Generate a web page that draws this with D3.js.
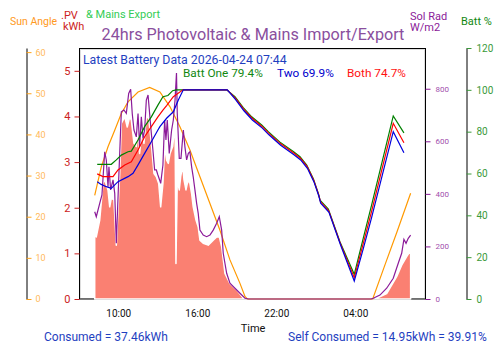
<!DOCTYPE html>
<html><head><meta charset="utf-8">
<script src="https://cdn.jsdelivr.net/npm/d3@7"></script>
<style>body{margin:0;background:#fff}svg{display:block;font-family:Roboto,sans-serif}</style>
</head><body><svg id="c" width="500" height="353"></svg>
<script>
// ---- data (hours from 2026-04-23 00:00; >24 = next day) ----
const pvHours = [8.21,8.33,8.59,8.84,8.97,9.22,9.35,9.47,9.67,9.85,10.11,10.23,10.49,10.68,10.87,10.99,11.19,11.37,11.50,11.62,11.80,11.95,12.13,12.31,12.51,12.71,12.89,13.07,13.22,13.39,13.52,13.67,13.80,13.93,14.13,14.31,14.38,14.48,14.63,14.74,14.89,14.99,15.14,15.24,15.39,15.57,15.69,15.90,16.07,16.20,16.45,16.83,17.21,17.47,17.67,17.85,18.10,18.48,18.99,19.49,19.70,29.49,30.38,31.14,31.52,31.90,32.15,32.20];
const pvKwh = [1.55,1.36,1.73,2.54,2.61,2.39,2.02,2.21,2.17,1.18,2.75,3.85,3.99,3.77,3.99,3.92,3.41,3.34,3.77,3.19,3.70,3.41,3.99,3.96,3.41,2.75,2.68,2.53,2.02,2.53,3.34,3.04,2.97,3.19,3.34,3.85,0.78,2.61,2.39,2.68,2.93,2.61,2.39,2.53,2.61,2.31,2.02,1.73,1.58,1.29,1.22,1.18,1.29,1.36,1.36,1.15,0.56,0.34,0.20,0.02,0,0,0.12,0.49,0.74,0.93,1.04,1.06];

const radHours = [8.21,8.33,8.59,8.76,8.97,9.09,9.22,9.29,9.42,9.60,9.73,9.85,10.03,10.23,10.43,10.61,10.79,10.94,11.06,11.19,11.37,11.50,11.62,11.75,11.88,12.00,12.13,12.26,12.38,12.51,12.63,12.76,12.89,13.01,13.14,13.22,13.39,13.52,13.62,13.72,13.87,14.05,14.18,14.31,14.42,14.48,14.63,14.76,14.94,15.06,15.19,15.32,15.44,15.57,15.69,15.82,15.95,16.07,16.20,16.45,16.71,16.96,17.21,17.47,17.67,17.85,17.97,18.23,18.48,18.86,19.24,19.62,19.90,29.20,29.36,29.87,30.38,30.88,31.26,31.39,31.52,31.69,31.85,32.02,32.20];
const radWm2 = [332,313,364,396,560,529,427,503,415,453,402,212,453,712,719,706,782,798,706,643,617,706,579,693,611,643,757,776,706,630,567,491,491,472,453,440,510,681,605,681,554,643,681,757,860,706,535,535,643,579,529,554,560,503,465,415,364,326,262,243,237,243,262,288,313,262,174,98,60,41,22,3,0,0,3,15,41,79,136,155,174,227,212,231,243];

const sunHours = [8.21,8.71,9.22,9.73,10.23,10.74,11.50,12.38,13.16,13.93,14.69,15.44,16.20,16.96,17.72,18.48,19.24,19.62,19.80,29.32,30.25,31.16,32.20];
const sunDeg = [25.2,32.1,37.0,41.0,45.1,47.9,50.3,51.4,50.3,46.7,41.8,36.2,29.7,23.2,16.7,9.5,3.8,0.6,0,0,8.3,16.3,25.7];

const battOneHours = [8.40,9.47,9.85,10.23,10.74,10.99,11.50,12.00,12.51,13.01,13.39,13.77,14.13,14.38,18.23,18.86,19.49,20.13,20.89,21.39,22.28,23.29,23.80,24.31,24.81,25.19,25.32,25.95,26.83,27.92,28.60,29.24,30.88,31.69];
const battOnePct = [64.4,64.4,66.5,68.8,70.4,70.7,76.0,82.4,87.1,92.7,96.7,97.3,99.6,100,100,96.7,91.5,87.1,83.2,80.0,75.0,70.5,68.0,64.0,57.5,50.5,47.3,43.0,27.4,11.8,29.0,45.0,87.5,79.4];
const bothHours = [8.40,8.84,9.60,9.98,10.49,10.99,11.50,12.00,12.51,13.01,13.39,13.67,14.18,14.91,18.26,18.89,19.52,20.16,20.92,21.42,22.31,23.32,23.83,24.34,24.84,25.22,25.35,25.98,26.86,27.92,28.60,29.24,30.88,31.69];
const bothPct = [59.8,58.5,58.5,61.7,64.1,65.6,71.2,77.6,82.4,87.1,90.3,92.5,96.7,100,100,96.0,90.8,86.4,82.5,79.3,74.3,69.8,67.3,63.3,56.8,49.8,46.6,42.2,26.6,10.2,26.5,42.0,84.0,74.7];
const battTwoHours = [8.40,8.70,9.09,9.47,9.98,10.74,11.12,11.50,12.00,12.51,13.01,13.16,13.67,14.18,14.56,14.94,18.28,18.91,19.54,20.18,20.94,21.44,22.33,23.34,23.85,24.36,24.86,25.24,25.37,26.00,26.88,27.92,28.60,29.24,30.88,31.69];
const battTwoPct = [56.1,54.8,53.7,52.9,56.1,58.5,60.1,64.1,69.6,75.2,80.8,82.4,86.4,89.5,95.1,100,100,95.3,90.0,85.6,81.7,78.5,73.5,69.0,66.5,62.5,56.0,49.0,45.8,41.4,25.8,8.6,24.0,39.0,80.0,69.9];

const xTickHours = [10,16,22,28];
const sunTicks = [0,10,20,30,40,50,60];
const kwhTicks = [0,1,2,3,4,5];
const radTicks = [0,200,400,600,800];
const battTicks = [0,20,40,60,80,100,120];

const latestText = "Latest Battery Data 2026-04-24 07:44";
const battOneText = "Batt One 79.4%", battTwoText = "Two 69.9%", bothText = "Both 74.7%";
const consumedText = "Consumed = 37.46kWh";
const selfText = "Self Consumed = 14.95kWh  = 39.91%";

// ---- drawing ----
const base = new Date(2026,3,23,0,0,0).getTime();
const T = h => new Date(base + h*3600000);
const svg = d3.select("#c");
const L = 79.5, R = 425.5, TOP = 48, BOT = 299;

const x = d3.scaleTime().domain([T(7.017), T(33.367)]).range([79, 426]);
const yKwh = d3.scaleLinear().domain([0,5.5]).range([BOT,TOP]);
const ySun = d3.scaleLinear().domain([0,61]).range([BOT,TOP]);
const yRad = d3.scaleLinear().domain([0,955]).range([BOT,TOP]);
const yBatt = d3.scaleLinear().domain([0,120]).range([BOT,TOP]);

const zip = (a,b) => a.map((h,i)=>[T(h), b[i]]);

// frame
svg.append("rect").attr("x",L+1).attr("y",TOP+1.5).attr("width",R-L-2).attr("height",BOT-TOP-2)
  .attr("fill","none").attr("stroke","#ddd");
svg.append("rect").attr("x",L).attr("y",TOP+0.5).attr("width",R-L).attr("height",BOT-TOP-0.5)
  .attr("fill","none").attr("stroke","#000");

// PV area
svg.append("path").datum(zip(pvHours,pvKwh))
  .attr("d", d3.area().x(d=>x(d[0])).y0(yKwh(0)).y1(d=>yKwh(d[1])))
  .attr("fill","#FA8072").attr("stroke","#fff").attr("stroke-width",1.5).attr("stroke-linejoin","round");

const line = ys => d3.line().x(d=>x(d[0])).y(d=>ys(d[1]));
svg.append("path").datum(zip(sunHours,sunDeg)).attr("d",line(ySun)).attr("fill","none").attr("stroke","#FF9900").attr("stroke-width",1.2);
svg.append("path").datum(zip(radHours,radWm2)).attr("d",line(yRad)).attr("fill","none").attr("stroke","#8B1A99").attr("stroke-width",1.2);
svg.append("path").datum(zip(battOneHours,battOnePct)).attr("d",line(yBatt)).attr("fill","none").attr("stroke","#008000").attr("stroke-width",1.2);
svg.append("path").datum(zip(bothHours,bothPct)).attr("d",line(yBatt)).attr("fill","none").attr("stroke","#FF0000").attr("stroke-width",1.2);
svg.append("path").datum(zip(battTwoHours,battTwoPct)).attr("d",line(yBatt)).attr("fill","none").attr("stroke","#0000DD").attr("stroke-width",1.2);

// axes
function styleAxis(g, col, fs, domainCol){
  g.selectAll(".tick line").attr("stroke",col);
  g.selectAll(".tick text").attr("fill",col).style("font-size",fs+"px").style("font-family","Roboto,sans-serif");
  if(domainCol) g.select(".domain").attr("stroke",domainCol); else g.select(".domain").remove();
}
const gSun = svg.append("g").attr("transform","translate(26.5,0)")
  .call(d3.axisRight(ySun).tickValues(sunTicks).tickSize(5).tickSizeOuter(0).tickPadding(4));
styleAxis(gSun,"#FFA31A",9,"#000");
gSun.selectAll(".tick text").attr("opacity",0.75);

const gKwh = svg.append("g").attr("transform",`translate(${L},0)`)
  .call(d3.axisLeft(yKwh).tickValues(kwhTicks).tickFormat(d3.format("d")).tickSize(5).tickSizeOuter(0).tickPadding(4));
styleAxis(gKwh,"#CC2222",11,null);

const gRad = svg.append("g").attr("transform",`translate(${R},0)`)
  .call(d3.axisRight(yRad).tickValues(radTicks).tickSize(5).tickSizeOuter(0).tickPadding(5));
styleAxis(gRad,"#8B1A99",8,null);
gRad.selectAll(".tick text").attr("opacity",0.8);

const gBatt = svg.append("g").attr("transform","translate(466.5,0)")
  .call(d3.axisRight(yBatt).tickValues(battTicks).tickSize(5).tickSizeOuter(0).tickPadding(5));
styleAxis(gBatt,"#3A9A3A",10,"#000");

const gX = svg.append("g").attr("transform",`translate(0,${BOT})`)
  .call(d3.axisBottom(x).tickValues(xTickHours.map(T)).tickFormat(d3.timeFormat("%H:%M")).tickSize(0).tickPadding(10.5));
styleAxis(gX,"#111",10,null);

// texts
const txt = (s,xx,yy,col,fs,anchor) => svg.append("text").attr("x",xx).attr("y",yy).attr("fill",col)
  .style("font-size",fs+"px").attr("text-anchor",anchor||"start").text(s);
txt("Sun Angle",10,25,"#FF9922",10.5);
txt(".PV",61,18.5,"#CC2222",11);
txt("kWh",63,30,"#CC2222",11);
txt("& Mains Export",86,17.5,"#33CC55",11);
txt("24hrs Photovoltaic & Mains Import/Export",253,39.5,"#8A4F9E",16.2,"middle");
txt("Sol Rad",410,19.5,"#8B1A99",11);
txt("W/m2",410,31,"#8B1A99",11);
txt("Batt %",461,25,"#118811",11);
txt(latestText,83,63.5,"#1F3FBF",12.3);
txt(battOneText,183,76.5,"#118811",11.8);
txt(battTwoText,277,76.5,"#0000CC",11.8);
txt(bothText,347,76.5,"#FF1111",11.8);
txt("Time",253,332,"#111",11,"middle");
txt(consumedText,44,341,"#1F3FBF",12);
txt(selfText,288,341,"#1F3FBF",12);
</script></body></html>
